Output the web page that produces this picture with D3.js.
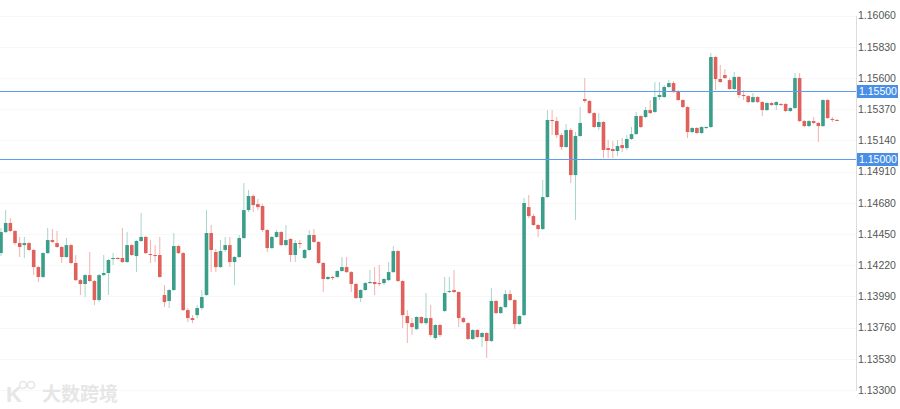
<!DOCTYPE html>
<html><head><meta charset="utf-8">
<script src="https://cdn.jsdelivr.net/npm/d3@7"></script>
<style>html,body{margin:0;padding:0;background:#fff;} svg{display:block;}</style>
</head><body><svg id="c" width="900" height="409"></svg>
<script>
const open = [1.14309,1.14464,1.14531,1.14472,1.14383,1.14368,1.14383,1.14332,1.14206,1.14133,
1.14309,1.14405,1.14383,1.14354,1.14280,1.14368,1.14236,1.14110,1.14081,1.14147,
1.14103,1.13963,1.14147,1.14162,1.14265,1.14273,1.14273,1.14243,1.14368,1.14287,
1.14398,1.14428,1.14302,1.14295,1.14295,1.14000,1.13956,1.14037,1.14361,1.14309,
1.13889,1.13830,1.13852,1.13904,1.14000,1.14457,1.14317,1.14206,1.14332,1.14368,
1.14243,1.14280,1.14420,1.14626,1.14730,1.14670,1.14656,1.14479,1.14346,1.14428,
1.14464,1.14368,1.14413,1.14295,1.14383,1.14273,1.14332,1.14442,1.14391,1.14236,
1.14118,1.14133,1.14133,1.14177,1.14206,1.14169,1.14081,1.13978,1.14037,1.14088,
1.14096,1.14088,1.14088,1.14110,1.14169,1.14324,1.14103,1.13845,1.13793,1.13749,
1.13838,1.13793,1.13830,1.13683,1.13779,1.13882,1.14022,1.14037,1.14022,1.13830,
1.13793,1.13676,1.13742,1.13690,1.13720,1.13661,1.13956,1.13867,1.13911,1.14007,
1.13963,1.13786,1.13852,1.14648,1.14582,1.14516,1.14486,1.14722,1.15290,1.15282,
1.15179,1.15091,1.15216,1.14884,1.15172,1.15444,1.15430,1.15341,1.15238,1.15275,
1.15083,1.15076,1.15061,1.15105,1.15083,1.15150,1.15186,1.15319,1.15312,1.15363,
1.15349,1.15459,1.15459,1.15533,1.15562,1.15496,1.15437,1.15385,1.15201,1.15231,
1.15194,1.15231,1.15238,1.15754,1.15592,1.15621,1.15584,1.15518,1.15607,1.15474,
1.15466,1.15422,1.15459,1.15422,1.15363,1.15415,1.15400,1.15408,1.15408,1.15356,
1.15378,1.15599,1.15282,1.15245,1.15282,1.15268,1.15245,1.15437,1.15297,1.15290];
const high = [1.14494,1.14626,1.14567,1.14479,1.14428,1.14428,1.14391,1.14339,1.14214,1.14317,
1.14494,1.14486,1.14472,1.14361,1.14420,1.14376,1.14295,1.14118,1.14155,1.14317,
1.14110,1.14155,1.14295,1.14265,1.14309,1.14280,1.14494,1.14464,1.14376,1.14405,
1.14604,1.14435,1.14405,1.14368,1.14428,1.14074,1.14044,1.14457,1.14368,1.14317,
1.13904,1.13852,1.13926,1.14037,1.14626,1.14516,1.14339,1.14405,1.14428,1.14428,
1.14287,1.14442,1.14825,1.14774,1.14744,1.14708,1.14670,1.14486,1.14435,1.14479,
1.14472,1.14516,1.14420,1.14405,1.14405,1.14339,1.14479,1.14486,1.14398,1.14243,
1.14140,1.14140,1.14184,1.14280,1.14280,1.14177,1.14088,1.14044,1.14096,1.14184,
1.14206,1.14221,1.14125,1.14243,1.14361,1.14332,1.14110,1.13889,1.13830,1.13845,
1.13845,1.14015,1.13926,1.13786,1.13786,1.14133,1.14133,1.14184,1.14029,1.13838,
1.13801,1.13749,1.13749,1.13727,1.13727,1.14051,1.13963,1.13919,1.14037,1.14037,
1.13970,1.13852,1.14715,1.14737,1.14597,1.14523,1.14847,1.15363,1.15363,1.15312,
1.15194,1.15260,1.15231,1.15201,1.15385,1.15599,1.15437,1.15349,1.15341,1.15282,
1.15142,1.15135,1.15142,1.15157,1.15179,1.15238,1.15349,1.15326,1.15385,1.15437,
1.15570,1.15570,1.15548,1.15584,1.15577,1.15511,1.15444,1.15393,1.15238,1.15238,
1.15245,1.15245,1.15783,1.15761,1.15695,1.15665,1.15599,1.15643,1.15614,1.15511,
1.15474,1.15489,1.15466,1.15430,1.15422,1.15422,1.15430,1.15415,1.15415,1.15385,
1.15636,1.15636,1.15290,1.15290,1.15312,1.15275,1.15444,1.15444,1.15312,1.15297];
const low = [1.14287,1.14457,1.14464,1.14368,1.14280,1.14273,1.14324,1.14147,1.14096,1.14125,
1.14302,1.14383,1.14346,1.14236,1.14273,1.14228,1.14103,1.14000,1.13985,1.14096,
1.13926,1.13948,1.14140,1.14000,1.14221,1.14265,1.14236,1.14236,1.14287,1.14169,
1.14391,1.14302,1.14236,1.14243,1.14125,1.13911,1.13904,1.14029,1.14302,1.13882,
1.13801,1.13793,1.13830,1.13889,1.13993,1.14169,1.14169,1.14199,1.14317,1.14206,
1.14074,1.14273,1.14413,1.14612,1.14612,1.14626,1.14464,1.14317,1.14339,1.14420,
1.14361,1.14361,1.14243,1.14243,1.14346,1.14265,1.14324,1.14383,1.14228,1.14022,
1.14110,1.14110,1.14125,1.14169,1.14162,1.14022,1.13970,1.13948,1.14029,1.14081,
1.14000,1.14066,1.14074,1.14103,1.14162,1.14096,1.13757,1.13646,1.13705,1.13742,
1.13786,1.13779,1.13690,1.13668,1.13690,1.13874,1.14015,1.14015,1.13764,1.13793,
1.13668,1.13668,1.13683,1.13617,1.13536,1.13654,1.13860,1.13860,1.13904,1.13956,
1.13749,1.13779,1.13845,1.14567,1.14508,1.14428,1.14479,1.14715,1.15179,1.15157,
1.15069,1.15083,1.14825,1.14553,1.15164,1.15415,1.15334,1.15231,1.15216,1.15009,
1.15009,1.15009,1.15024,1.15054,1.15069,1.15142,1.15179,1.15231,1.15304,1.15334,
1.15341,1.15437,1.15452,1.15525,1.15489,1.15430,1.15378,1.15157,1.15194,1.15186,
1.15186,1.15223,1.15231,1.15511,1.15562,1.15592,1.15511,1.15511,1.15452,1.15437,
1.15415,1.15415,1.15415,1.15319,1.15356,1.15393,1.15363,1.15393,1.15349,1.15349,
1.15371,1.15275,1.15238,1.15238,1.15260,1.15128,1.15238,1.15297,1.15275,1.15282];
const close = [1.14464,1.14531,1.14472,1.14383,1.14354,1.14383,1.14332,1.14206,1.14133,1.14309,
1.14405,1.14391,1.14354,1.14280,1.14368,1.14236,1.14110,1.14081,1.14147,1.14103,
1.13963,1.14147,1.14162,1.14258,1.14273,1.14265,1.14243,1.14368,1.14295,1.14398,
1.14428,1.14309,1.14295,1.14287,1.14133,1.13948,1.14037,1.14361,1.14309,1.13889,
1.13830,1.13816,1.13904,1.13985,1.14457,1.14332,1.14206,1.14324,1.14368,1.14243,
1.14280,1.14420,1.14626,1.14730,1.14663,1.14648,1.14479,1.14346,1.14428,1.14464,
1.14368,1.14405,1.14295,1.14383,1.14376,1.14332,1.14442,1.14391,1.14236,1.14118,
1.14133,1.14125,1.14177,1.14206,1.14169,1.14081,1.13978,1.14037,1.14088,1.14096,
1.14081,1.14081,1.14118,1.14169,1.14324,1.14103,1.13852,1.13793,1.13764,1.13838,
1.13793,1.13830,1.13705,1.13779,1.13705,1.14015,1.14029,1.14022,1.13830,1.13801,
1.13676,1.13742,1.13690,1.13720,1.13661,1.13956,1.13867,1.13911,1.14007,1.13963,
1.13786,1.13845,1.14678,1.14582,1.14516,1.14486,1.14722,1.15290,1.15282,1.15179,
1.15091,1.15216,1.14884,1.15172,1.15268,1.15430,1.15341,1.15238,1.15275,1.15069,
1.15069,1.15061,1.15098,1.15083,1.15150,1.15186,1.15319,1.15238,1.15363,1.15341,
1.15459,1.15474,1.15533,1.15562,1.15496,1.15437,1.15385,1.15201,1.15231,1.15194,
1.15238,1.15238,1.15754,1.15592,1.15570,1.15599,1.15518,1.15607,1.15474,1.15466,
1.15422,1.15459,1.15422,1.15363,1.15415,1.15400,1.15422,1.15400,1.15356,1.15378,
1.15599,1.15282,1.15245,1.15282,1.15268,1.15245,1.15437,1.15304,1.15290,1.15285];
const tickValues = [1.16060,1.15830,1.15600,1.15370,1.15140,1.14910,1.14680,1.14450,1.14220,1.13990,1.13760,1.13530,1.13300];
const levels = [1.15500,1.15000];
const watermarkText = "大数跨境";

const W = 900, H = 409, axisX = 856;
const svg = d3.select("#c");
const idx = open.map((_, i) => i);
const x = d3.scaleLinear().domain([0, idx.length - 1]).range([1, 837]);
const y = d3.scaleLinear().domain([1.13300, 1.16060]).range([390, 15.5]);

const GREEN = "#3b9e8a", RED = "#e0615b", GREEN_W = "#a5d6cb", RED_W = "#f3b1ad";

// faint grid
svg.append("g").selectAll("line").data(tickValues).join("line")
  .attr("x1", 0).attr("x2", axisX).attr("y1", d => Math.round(y(d)) + 0.5).attr("y2", d => Math.round(y(d)) + 0.5)
  .attr("stroke", "#f8f8f8");

// candles
const g = svg.append("g");
const c = g.selectAll("g").data(idx).join("g");
c.append("line")
  .attr("x1", i => x(i)).attr("x2", i => x(i))
  .attr("y1", i => y(high[i])).attr("y2", i => y(low[i]))
  .attr("stroke", i => close[i] >= open[i] ? GREEN_W : RED_W).attr("stroke-width", 1);
c.append("rect")
  .attr("x", i => x(i) - 1.8).attr("width", 3.6)
  .attr("y", i => y(Math.max(open[i], close[i])))
  .attr("height", i => Math.max(1, Math.abs(y(open[i]) - y(close[i]))))
  .attr("fill", i => close[i] >= open[i] ? GREEN : RED);

// level lines
svg.append("g").selectAll("line").data(levels).join("line")
  .attr("x1", 0).attr("x2", axisX).attr("y1", d => Math.round(y(d)) + 0.5).attr("y2", d => Math.round(y(d)) + 0.5)
  .attr("stroke", "#5d9cf0").attr("stroke-width", 1);

// axis
const axis = d3.axisRight(y).tickValues(tickValues).tickSize(0).tickPadding(2).tickFormat(d3.format(".5f"));
const ag = svg.append("g").attr("transform", `translate(${axisX},0)`).call(axis);
ag.select(".domain").attr("stroke", "#dcdcdc");
ag.selectAll("text").attr("fill", "#555").attr("font-size", 10.5).attr("font-family", "Liberation Sans, Arial, sans-serif");

// level labels
const lg = svg.append("g").selectAll("g").data(levels).join("g")
  .attr("transform", d => `translate(${axisX},${Math.round(y(d)) + 0.5})`);
lg.append("rect").attr("x", 1).attr("y", -6.5).attr("width", 41).attr("height", 13).attr("fill", "#4a8fe6");
lg.append("text").attr("x", 3).attr("dy", "0.35em").attr("fill", "#fff").attr("font-size", 10.5)
  .attr("font-family", "Liberation Sans, Arial, sans-serif").text(d => d3.format(".5f")(d));

// watermark
const wm = svg.append("g").attr("fill", "#e6e6e6");
wm.append("text").attr("x", 6).attr("y", 402).attr("font-size", 22).attr("font-weight", "bold")
  .attr("font-family", "Liberation Sans, Arial, sans-serif").text("K");
wm.append("circle").attr("cx", 23).attr("cy", 385).attr("r", 3.5).attr("fill", "none").attr("stroke", "#e6e6e6").attr("stroke-width", 1.6);
wm.append("circle").attr("cx", 31).attr("cy", 385).attr("r", 3.5).attr("fill", "none").attr("stroke", "#e6e6e6").attr("stroke-width", 1.6);
wm.append("text").attr("x", 42).attr("y", 401).attr("font-size", 19).attr("font-weight", "bold")
  .attr("font-family", "Noto Sans CJK SC, sans-serif").text(watermarkText);
</script></body></html>
